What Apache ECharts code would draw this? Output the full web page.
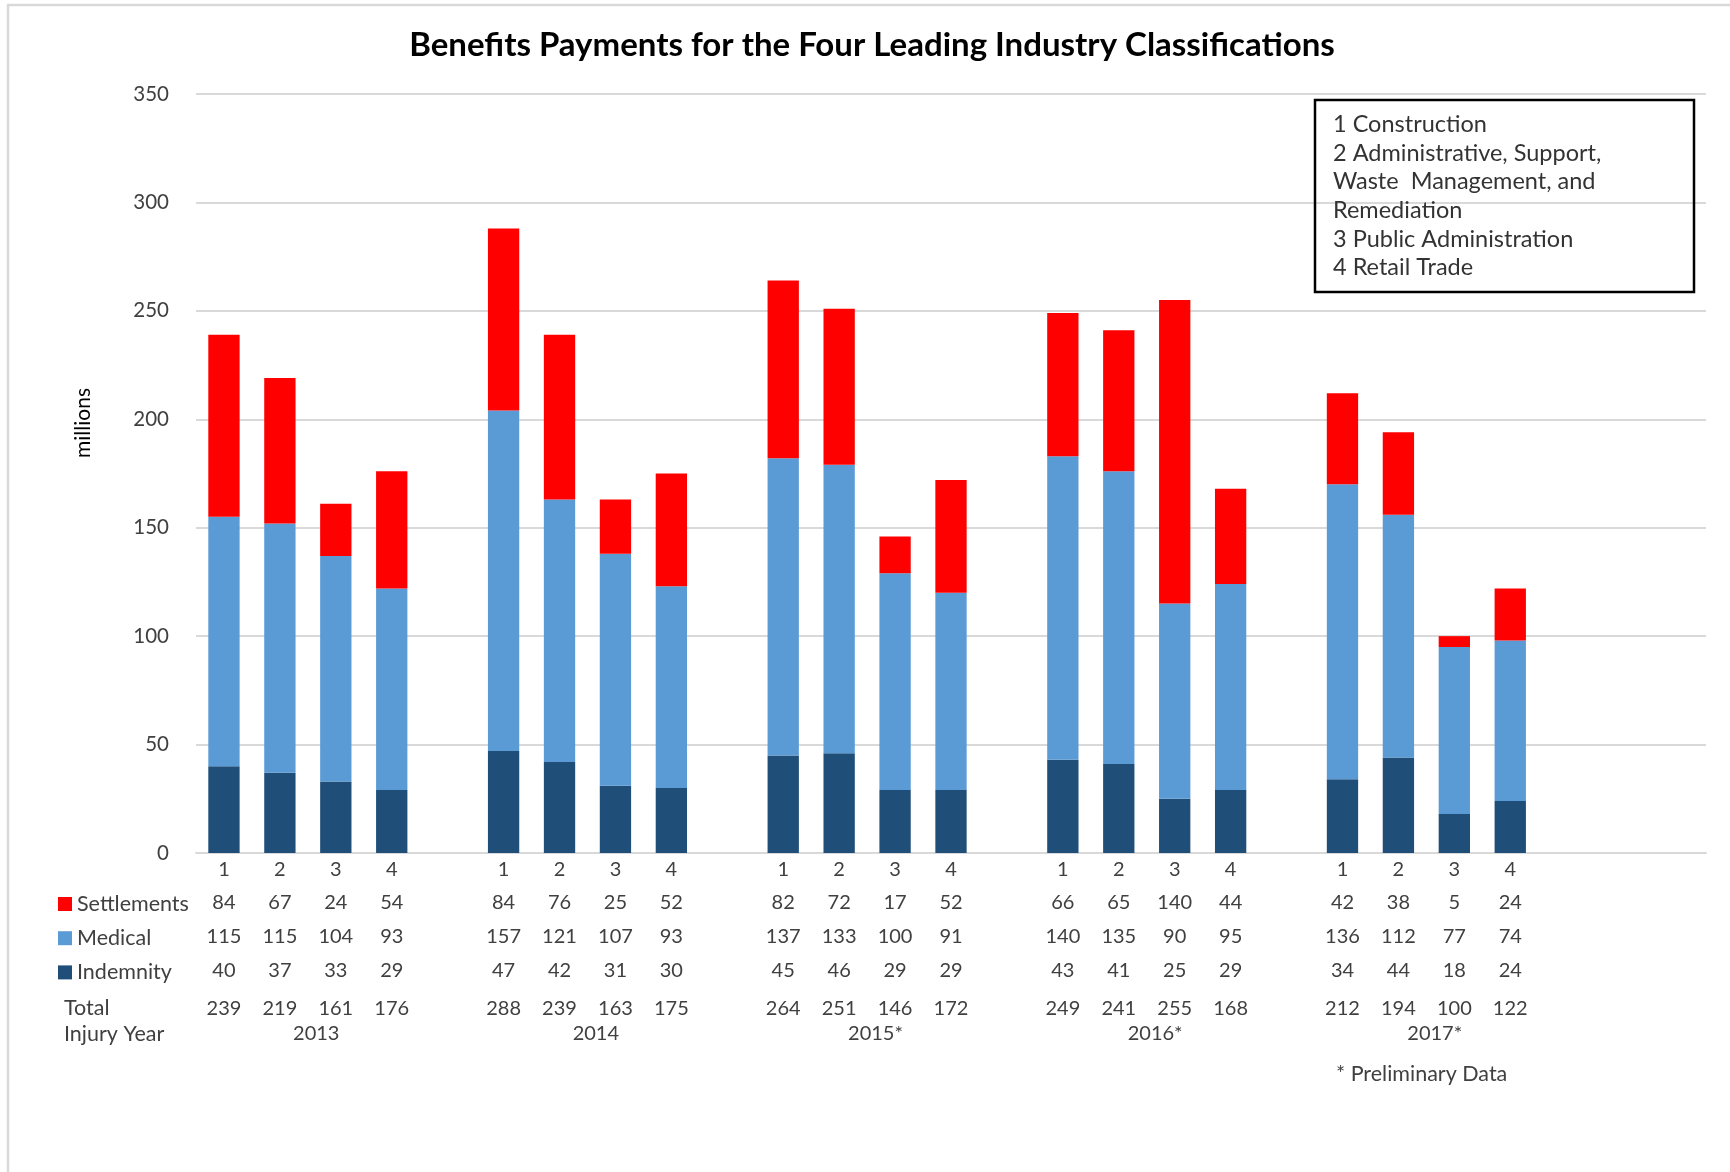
<!DOCTYPE html>
<html>
<head>
<meta charset="utf-8">
<title>Benefits Payments</title>
<script src="https://cdn.jsdelivr.net/npm/echarts@6/dist/echarts.min.js"></script>
<style>
  html, body { margin: 0; padding: 0; background: #fff; }
  #chart { width: 1730px; height: 1172px; }
</style>
</head>
<body>
<div id="chart"></div>
<script>
// data
var industries = ['1', '2', '3', '4'];
var years = ['2013', '2014', '2015*', '2016*', '2017*'];
var settlements = [84, 67, 24, 54, 84, 76, 25, 52, 82, 72, 17, 52, 66, 65, 140, 44, 42, 38, 5, 24];
var medical = [115, 115, 104, 93, 157, 121, 107, 93, 137, 133, 100, 91, 140, 135, 90, 95, 136, 112, 77, 74];
var indemnity = [40, 37, 33, 29, 47, 42, 31, 30, 45, 46, 29, 29, 43, 41, 25, 29, 34, 44, 18, 24];
var totals = [239, 219, 161, 176, 288, 239, 163, 175, 264, 251, 146, 172, 249, 241, 255, 168, 212, 194, 100, 122];
var industryNames = [
    '1 Construction',
    '2 Administrative, Support,',
    'Waste  Management, and',
    'Remediation',
    '3 Public Administration',
    '4 Retail Trade'
];
var yMin = 0, yMax = 350, yStep = 50;

var FONT = 'Lato';
var GREY = '#404040';

// one slot per bar, one empty slot after each year, two spare slots at the end
var slots = [];
years.forEach(function (y, g) {
    industries.forEach(function (ind, k) {
        slots.push({ key: y + '-' + ind, idx: g * industries.length + k });
    });
    slots.push({ key: 'gap' + g, idx: -1 });
});
slots.push({ key: 'end0', idx: -1 });
slots.push({ key: 'end1', idx: -1 });

function pick(arr) {
    return slots.map(function (s) { return s.idx < 0 ? '-' : arr[s.idx]; });
}

// year label sits over the middle of its four bars
var yearPos = years.map(function (y, g) { return g * (industries.length + 1) + 2.15; });

var chart = echarts.init(document.getElementById('chart'));

var option = {
    animation: false,
    backgroundColor: '#fff',
    textStyle: { fontFamily: FONT },
    title: {
        text: 'Benefits Payments for the Four Leading Industry Classifications',
        left: 867,
        top: 24,
        textAlign: 'center',
        textStyle: { fontFamily: FONT, fontSize: 33, fontWeight: 'bold', color: '#000' }
    },
    legend: {
        data: ['Settlements', 'Medical', 'Indemnity'],
        orient: 'vertical',
        left: 53,
        top: 887,
        itemWidth: 14,
        itemHeight: 14,
        itemGap: 10.2,
        icon: 'rect',
        selectedMode: false,
        textStyle: { fontFamily: FONT, fontSize: 21.5, color: GREY, lineHeight: 24 }
    },
    grid: {
        left: 196,
        right: 24,
        top: 94,
        bottom: 319,
        containLabel: false,
        outerBoundsMode: 'none'
    },
    xAxis: [{
        type: 'category',
        data: slots.map(function (s) { return s.key; }),
        axisLine: { lineStyle: { color: '#d9d9d9', width: 2 } },
        axisTick: { show: false },
        axisLabel: {
            interval: 0,
            margin: 2,
            formatter: function (value, index) {
                var s = slots[index];
                if (!s || s.idx < 0) return '';
                var i = s.idx;
                return '{n|' + industries[i % industries.length] + '}\n' +
                    '{v|' + settlements[i] + '}\n' +
                    '{v|' + medical[i] + '}\n' +
                    '{v|' + indemnity[i] + '}\n' +
                    '{t|' + totals[i] + '}';
            },
            rich: {
                n: { fontFamily: FONT, fontSize: 20, color: GREY, lineHeight: 30 },
                v: { fontFamily: FONT, fontSize: 20, color: GREY, lineHeight: 34.3 },
                t: { fontFamily: FONT, fontSize: 20, color: GREY, lineHeight: 41 }
            }
        }
    }, {
        type: 'value',
        position: 'bottom',
        min: 0,
        max: slots.length,
        offset: 160,
        axisLine: { show: false },
        axisTick: { show: false },
        splitLine: { show: false },
        axisLabel: {
            customValues: yearPos,
            margin: 9,
            fontFamily: FONT,
            fontSize: 20,
            lineHeight: 24,
            color: GREY,
            formatter: function (v) {
                var g = yearPos.indexOf(v);
                return g < 0 ? '' : years[g];
            }
        }
    }],
    yAxis: {
        type: 'value',
        min: yMin,
        max: yMax,
        interval: yStep,
        axisLine: { show: false },
        axisTick: { show: false },
        splitLine: { lineStyle: { color: '#d9d9d9', width: 2 } },
        axisLabel: { margin: 27, fontFamily: FONT, fontSize: 20.5, color: GREY }
    },
    series: [{
        name: 'Indemnity',
        type: 'bar',
        stack: 'pay',
        barCategoryGap: '44%',
        itemStyle: { color: '#1F4E79' },
        data: pick(indemnity)
    }, {
        name: 'Medical',
        type: 'bar',
        stack: 'pay',
        barCategoryGap: '44%',
        itemStyle: { color: '#5B9BD5' },
        data: pick(medical)
    }, {
        name: 'Settlements',
        type: 'bar',
        stack: 'pay',
        barCategoryGap: '44%',
        itemStyle: { color: '#FF0000' },
        data: pick(settlements)
    }],
    graphic: [{
        type: 'polyline',
        silent: true,
        shape: { points: [[8, 1172], [8, 5], [1730, 5]] },
        style: { stroke: '#d9d9d9', lineWidth: 2.5, fill: null }
    }, {
        type: 'text',
        x: 83,
        y: 423,
        rotation: Math.PI / 2,
        style: {
            text: 'millions', fontFamily: FONT, fontSize: 21, fill: '#000',
            align: 'center', verticalAlign: 'middle'
        }
    }, {
        type: 'text',
        x: 64,
        y: 1008,
        style: { text: 'Total', fontFamily: FONT, fontSize: 21.5, fill: GREY, verticalAlign: 'middle' }
    }, {
        type: 'text',
        x: 64,
        y: 1034,
        style: { text: 'Injury Year', fontFamily: FONT, fontSize: 21.5, fill: GREY, verticalAlign: 'middle' }
    }, {
        type: 'text',
        x: 1336,
        y: 1074,
        style: { text: '* Preliminary Data', fontFamily: FONT, fontSize: 21.5, fill: GREY, verticalAlign: 'middle' }
    }, {
        type: 'rect',
        z: 100,
        shape: { x: 1315, y: 100, width: 379, height: 192 },
        style: { fill: null, stroke: '#000', lineWidth: 2.5 }
    }, {
        type: 'text',
        z: 100,
        x: 1333,
        y: 110,
        style: {
            text: industryNames.join('\n'), fontFamily: FONT, fontSize: 23.5,
            lineHeight: 28.7, fill: '#333', verticalAlign: 'top'
        }
    }]
};

chart.setOption(option);
</script>
</body>
</html>
